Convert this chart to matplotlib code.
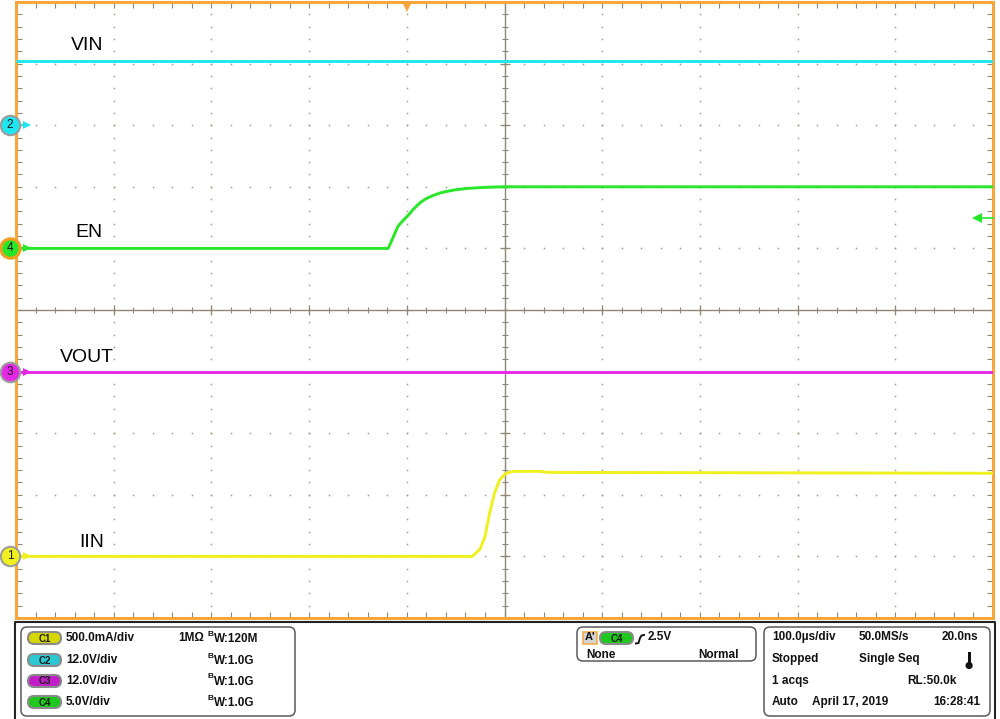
import numpy as np
import matplotlib
matplotlib.use('Agg')
import matplotlib.pyplot as plt
from matplotlib.patches import FancyBboxPatch, Rectangle, Circle

plt.rcParams['font.family'] = ['Liberation Sans', 'DejaVu Sans']

# ---------------- data (time in microseconds, trigger at t = 0) ----------------
time_window_us = [-400, 600]
time_per_div_us = 100

vin_t = [-400, 600]
vin_v = [12.6, 12.6]

en_t = [-400, -19, -14, -9, -4, 1, 7, 13.5, 20, 27, 34, 41, 50, 62, 78, 98, 600]
en_v = [0.0, 0.0, 0.9, 1.8, 2.25, 2.65, 3.2, 3.7, 4.05, 4.3, 4.5, 4.63, 4.76, 4.87, 4.95, 5.0, 5.0]

vout_t = [-400, 600]
vout_v = [0.0, 0.0]

iin_t = [-400, 67, 75, 80, 85, 90, 95, 100.5, 108.5, 135, 145, 600]
iin_a = [0.0, 0.0, 0.06, 0.16, 0.36, 0.52, 0.62, 0.67, 0.69, 0.69, 0.682, 0.675]

channel_ids = ['1', '2', '3', '4']
channel_names = ['IIN', 'VIN', 'VOUT', 'EN']
channel_scale = [0.5, 12.0, 12.0, 5.0]        # units per division
channel_offset_div = [-4.0, 3.0, -1.0, 1.0]    # ground position in divisions
channel_colors = ['#f0f01e', '#1ee6f0', '#e628e6', '#28e628']
badge_colors = ['#d6d600', '#2cc8d2', '#c21ec8', '#1ec81e']
trigger_level_v = 2.5

scale_labels = ['500.0mA/div', '12.0V/div', '12.0V/div', '5.0V/div']
bw_labels = ['W:120M', 'W:1.0G', 'W:1.0G', 'W:1.0G']

ORANGE = '#f5a73c'
GRIDC = '#8f8674'
DOTC = '#a39a88'

fig = plt.figure(figsize=(10, 7.19), dpi=100)
fig.patch.set_facecolor('white')

# ---------------- main scope screen ----------------
ax = fig.add_axes([16 / 1000, 1 - 618 / 719, 977 / 1000, 616 / 719])
ax.set_xlim(*time_window_us)
ax.set_ylim(-5, 5)
ax.set_facecolor('white')
for s in ax.spines.values():
    s.set_color(ORANGE)
    s.set_linewidth(2.2)
ax.set_xticks(np.arange(-400, 601, 20))
ax.set_yticks(np.arange(-5, 5.001, 0.2))
ax.tick_params(direction='in', length=4.3, width=0.8, color=GRIDC,
               top=True, right=True, labelbottom=False, labelleft=False)

center_t = 100
xmaj = [x for x in range(-300, 501, 100) if x != center_t]
ymaj = [y for y in range(-4, 5) if y != 0]
yminor = np.arange(-4.8, 4.81, 0.2)
xminor = np.arange(-380, 581, 20)
for x in xmaj:
    ax.plot(np.full(len(yminor), x), yminor, ls='none', marker='s', ms=1.1, mew=0, color=DOTC)
for y in ymaj:
    ax.plot(xminor, np.full(len(xminor), y), ls='none', marker='s', ms=1.1, mew=0, color=DOTC)

ax.axhline(0, color=GRIDC, lw=1.0)
ax.axvline(center_t, color=GRIDC, lw=1.0)
ax.plot(xminor, np.zeros(len(xminor)), ls='none', marker='|', ms=4.3, mew=0.8, color=GRIDC)
ax.plot(xmaj, np.zeros(len(xmaj)), ls='none', marker='|', ms=7.5, mew=0.9, color=GRIDC)
ax.plot(np.full(len(yminor), center_t), yminor, ls='none', marker='_', ms=4.3, mew=0.8, color=GRIDC)
ax.plot(np.full(len(ymaj), center_t), ymaj, ls='none', marker='_', ms=7.5, mew=0.9, color=GRIDC)

# traces
traces = {'2': (vin_t, vin_v), '4': (en_t, en_v), '3': (vout_t, vout_v), '1': (iin_t, iin_a)}
for cid in ['2', '4', '3', '1']:
    i = channel_ids.index(cid)
    t, v = traces[cid]
    y = channel_offset_div[i] + np.asarray(v) / channel_scale[i]
    ax.plot(t, y, color=channel_colors[i], lw=2.1, solid_capstyle='butt',
            solid_joinstyle='round', zorder=3)

# channel ground markers on the left
ytr = ax.get_yaxis_transform()
def ax_x(px):
    return (px - 16) / 977
for i, cid in enumerate(channel_ids):
    off = channel_offset_div[i]
    col = channel_colors[i]
    ax.plot([ax_x(18), ax_x(26)], [off, off], color=col, lw=1.3, transform=ytr, clip_on=False, zorder=5)
    ax.plot([ax_x(26.5)], [off], marker='>', ms=5.5, mew=0, color=col, transform=ytr, clip_on=False, zorder=5)
    ec, ew = ('#f0a020', 2.2) if cid == '4' else ('#9c9c9c', 1.5)
    ax.plot([ax_x(10)], [off], marker='o', ms=14, mfc=col, mec=ec, mew=ew,
            transform=ytr, clip_on=False, zorder=6)
    ax.text(ax_x(10), off, cid, transform=ytr, ha='center', va='center',
            fontsize=8.5, color='#1a1a1a', clip_on=False, zorder=7)

# trigger level arrow (right) on C4
ci = channel_ids.index('4')
trig_div = channel_offset_div[ci] + trigger_level_v / channel_scale[ci]
ax.plot([ax_x(978), 1.0], [trig_div, trig_div], color=channel_colors[ci], lw=1.2, transform=ytr, clip_on=False, zorder=5)
ax.plot([ax_x(976.5)], [trig_div], marker='<', ms=6.5, mew=0, color=channel_colors[ci], transform=ytr, clip_on=False, zorder=5)

# trigger position marker (top)
ax.plot([0], [(618 - 6.5) / 616], marker='v', ms=7.5, mew=0, color=ORANGE,
        transform=ax.get_xaxis_transform(), clip_on=False, zorder=6)

# ---------------- overlay in pixel coordinates ----------------
ov = fig.add_axes([0, 0, 1, 1])
ov.set_xlim(0, 1000)
ov.set_ylim(719, 0)
ov.axis('off')
ov.patch.set_alpha(0)

# trace name labels
label_pos = {'VIN': (71, 50), 'EN': (75, 237), 'VOUT': (60, 362), 'IIN': (79, 547)}
for name, (x, y) in label_pos.items():
    ov.text(x, y, name, fontsize=14, ha='left', va='baseline', color='black')

# panel outer frame
ov.plot([15, 15, 995, 995], [719, 622, 622, 719], color='#222222', lw=1.5)

def rbox(x0, y0, x1, y1, r=6, ec='#5a5a5a', fc='white', lw=1.1):
    ov.add_patch(FancyBboxPatch((x0, y0), x1 - x0, y1 - y0,
                                boxstyle=f'round,pad=0,rounding_size={r}',
                                fc=fc, ec=ec, lw=lw))

rbox(21, 627, 295, 716)
rbox(577, 627, 756, 661)
rbox(764, 627, 990, 716)

FS = 8.5
def txt(x, y, s, ha='left', fs=FS, weight='bold', color='#111111'):
    ov.text(x, y, s, ha=ha, va='center', fontsize=fs, fontweight=weight, color=color)

def badge(x0, yc, label, color, w=33, h=12):
    ov.add_patch(FancyBboxPatch((x0, yc - h / 2), w, h,
                                boxstyle=f'round,pad=0,rounding_size={h / 2}',
                                fc=color, ec='#8a8a8a', lw=1.5))
    ov.text(x0 + w / 2, yc + 0.5, label, ha='center', va='center', fontsize=7,
            fontweight='bold', color='#1a1a1a')

rows = [638, 660, 681, 702]
for i in range(4):
    badge(28, rows[i], 'C' + channel_ids[i], badge_colors[i])
    txt(66, rows[i], scale_labels[i])
    ov.text(207.5, rows[i] - 4, 'B', ha='left', va='center', fontsize=6, fontweight='bold', color='#111111')
    txt(214, rows[i] + 1, bw_labels[i])
txt(178, rows[0], '1MΩ')

# trigger box
ov.add_patch(Rectangle((583, 632), 14, 12, fc='#d4d4d4', ec=ORANGE, lw=1.1))
txt(590, 637.5, "A'", ha='center', fs=8)
badge(600, 638, 'C4', badge_colors[3])
ov.plot([636, 638.5, 640, 641.5, 644], [643.5, 643, 638, 635.5, 635], color='#111111', lw=1.4)
txt(648, 637, '2.5V')
txt(586, 655, 'None')
txt(739, 655, 'Normal', ha='right')

# timebase box
txt(772, 637, '100.0µs/div')
txt(859, 637, '50.0MS/s')
txt(978, 637, '20.0ns', ha='right')
txt(772, 659, 'Stopped')
txt(859, 659, 'Single Seq')
txt(772, 681, '1 acqs')
txt(957, 681, 'RL:50.0k', ha='right')
txt(772, 702, 'Auto')
txt(812, 702, 'April 17, 2019')
txt(980, 702, '16:28:41', ha='right')
# thermometer icon
ov.add_patch(Rectangle((967.6, 652), 3, 12, fc='#111111', ec='none'))
ov.add_patch(Circle((969.1, 665.5), 3.6, fc='#111111', ec='none'))

fig.savefig('out.png', dpi=100, facecolor='white')
